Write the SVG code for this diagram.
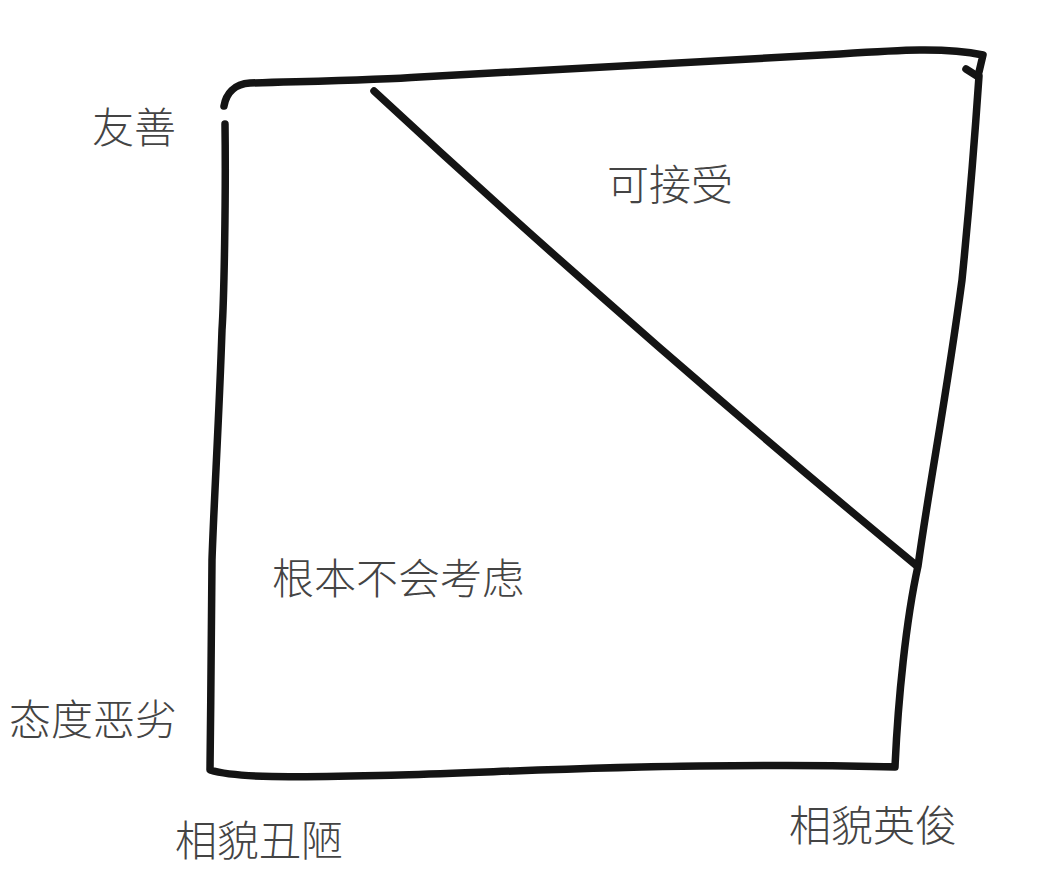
<svg xmlns="http://www.w3.org/2000/svg" width="1044" height="886" viewBox="0 0 1044 886">
<style>
.ln{fill:none;stroke:#141414;stroke-width:7.5;stroke-linecap:round;stroke-linejoin:round}
.lb{font-family:"Noto Sans CJK SC","Noto Sans CJK TC",sans-serif;font-size:42px;fill:#444444;font-weight:300}
</style>
<rect width="1044" height="886" fill="#ffffff"/>
<g id="connectors">
<path class="ln" d="M224,106 C226,94 234,84 250,83 C320,81 380,80 420,77 C560,69 700,61 840,54 C900,50 945,47 983,55 L979,72"/>
<path class="ln" d="M966,69 L977,76"/>
<path class="ln" d="M225,124 C226,200 224,300 222,330 C219,420 214,500 212,560 C211,640 211,700 210,770 C240,779 300,777 400,775 C520,771 600,767 700,766 C780,765 840,765 895,767 C898,700 906,620 918,566 C930,480 946,400 962,280 C970,200 976,120 979,76"/>
<path class="ln" d="M374,91 Q636,334 917,566"/>
</g>
<g id="n1"><text class="lb" x="92" y="143">友善</text></g>
<g id="n2"><text class="lb" x="607" y="200">可接受</text></g>
<g id="n3"><text class="lb" x="272" y="594">根本不会考虑</text></g>
<g id="n4"><text class="lb" x="9" y="735">态度恶劣</text></g>
<g id="n5"><text class="lb" x="175" y="856">相貌丑陋</text></g>
<g id="n6"><text class="lb" x="789" y="841">相貌英俊</text></g>
</svg>
